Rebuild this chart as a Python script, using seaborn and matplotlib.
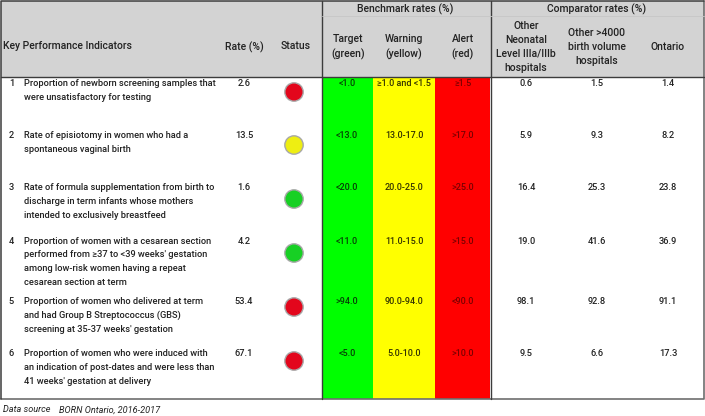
import matplotlib
matplotlib.use('Agg')
import matplotlib.pyplot as plt
import pandas as pd
import seaborn as sns

numbers = ['1', '2', '3', '4', '5', '6']
indicators = [
    'Proportion of newborn screening samples that\nwere unsatisfactory for testing',
    'Rate of episiotomy in women who had a\nspontaneous vaginal birth',
    'Rate of formula supplementation from birth to\ndischarge in term infants whose mothers\nintended to exclusively breastfeed',
    'Proportion of women with a cesarean section\nperformed from ≥37 to <39 weeks\' gestation\namong low-risk women having a repeat\ncesarean section at term',
    'Proportion of women who delivered at term\nand had Group B Streptococcus (GBS)\nscreening at 35-37 weeks\' gestation',
    'Proportion of women who were induced with\nan indication of post-dates and were less than\n41 weeks\' gestation at delivery',
]
rates = ['2.6', '13.5', '1.6', '4.2', '53.4', '67.1']
status = ['red', 'yellow', 'green', 'green', 'red', 'red']
target = ['<1.0', '<13.0', '<20.0', '<11.0', '>94.0', '<5.0']
warning = ['≥1.0 and <1.5', '13.0-17.0', '20.0-25.0', '11.0-15.0', '90.0-94.0', '5.0-10.0']
alert = ['≥1.5', '>17.0', '>25.0', '>15.0', '<90.0', '>10.0']
neonatal = ['0.6', '5.9', '16.4', '19.0', '98.1', '9.5']
birth_volume = ['1.5', '9.3', '25.3', '41.6', '92.8', '6.6']
ontario = ['1.4', '8.2', '23.8', '36.9', '91.1', '17.3']

row_y = [84, 136, 188, 241, 302, 354]
light_y = [92, 145, 199, 253, 307, 361]
line_h = 13.7
text_col = '#222222'
fs = 6.7

sns.set_theme(style='white')
plt.rcParams['font.family'] = ['Roboto', 'DejaVu Sans']

fig = plt.figure(figsize=(7.05, 4.16), dpi=100)

# benchmark colour columns, one heatmap per column because the widths differ
columns = [(322, 373, '#00ff00'), (373, 435, '#ffff00'), (435, 490, '#ff0000')]
for left, right, colour in columns:
    hm = fig.add_axes([left / 705, 1 - 399 / 416, (right - left) / 705, (399 - 77) / 416], zorder=1)
    sns.heatmap(pd.DataFrame({'c': [1] * 6}), cmap=[colour], cbar=False,
                xticklabels=False, yticklabels=False, ax=hm)

ax = fig.add_axes([0, 0, 1, 1], zorder=2)
ax.patch.set_alpha(0)

# grey header
ax.fill_between([1, 704], 1, 77, color='#d3d3d3', lw=0, zorder=0)

# status lights
lights = pd.DataFrame({'x': [294] * 6, 'y': light_y, 'status': status})
sns.scatterplot(data=lights, x='x', y='y', hue='status',
                palette={'red': '#e3061c', 'yellow': '#eeee12', 'green': '#17d024'},
                s=175, edgecolor='#a8a8a8', linewidth=1.0, legend=False, ax=ax, zorder=6)
ax.set_xlim(0, 705)
ax.set_ylim(416, 0)
ax.axis('off')

# frame and grid
line_col = '#3c3c3c'
ax.plot([1, 704, 704], [399, 399, 1], color='#6e6e6e', lw=1.2, zorder=5)
ax.plot([704, 1, 1, 1], [1, 1, 399, 399], color=line_col, lw=1.1, zorder=5)
ax.plot([1, 704], [77, 77], color=line_col, lw=1.0, zorder=5)
ax.plot([321.5, 321.5], [1, 399], color=line_col, lw=1.0, zorder=5)
ax.plot([490.5, 490.5], [1, 399], color=line_col, lw=1.0, zorder=5)
ax.plot([322, 704], [16, 16], color='#c6c6c6', lw=0.6, zorder=5)

# header text
hkw = dict(fontsize=7.5, color=text_col, va='center', ha='center', fontweight='medium')
ax.text(3, 46, 'Key Performance Indicators', **{**hkw, 'ha': 'left'})
ax.text(244, 47, 'Rate (%)', **hkw)
ax.text(296, 46, 'Status', **hkw)
ax.text(405, 9, 'Benchmark rates (%)', **hkw)
ax.text(597, 9, 'Comparator rates (%)', **hkw)
ax.text(348, 47, 'Target\n(green)', linespacing=1.5, **hkw)
ax.text(404, 47, 'Warning\n(yellow)', linespacing=1.5, **hkw)
ax.text(463, 47, 'Alert\n(red)', linespacing=1.5, **hkw)
ax.text(526, 47, 'Other\nNeonatal\nLevel IIIa/IIIb\nhospitals', linespacing=1.48, **hkw)
ax.text(597, 47, 'Other >4000\nbirth volume\nhospitals', linespacing=1.48, **hkw)
ax.text(668, 47, 'Ontario', **hkw)

# body rows
for i, y in enumerate(row_y):
    ax.text(11.5, y, numbers[i], fontsize=fs, color=text_col, ha='center', va='center', fontweight='medium')
    for j, part in enumerate(indicators[i].split('\n')):
        ax.text(24, y + j * line_h, part, fontsize=fs, color=text_col, ha='left', va='center', fontweight='medium')
    ax.text(244, y, rates[i], fontsize=fs, color=text_col, ha='center', va='center', fontweight='medium')
    ax.text(347, y, target[i], fontsize=6.5, color='#063d06', ha='center', va='center', fontweight='medium')
    ax.text(404, y, warning[i], fontsize=6.5, color='#333300', ha='center', va='center', fontweight='medium')
    ax.text(463, y, alert[i], fontsize=6.5, color='#7a0000', ha='center', va='center', fontweight='medium')
    ax.text(526, y, neonatal[i], fontsize=fs, color=text_col, ha='center', va='center', fontweight='medium')
    ax.text(597, y, birth_volume[i], fontsize=fs, color=text_col, ha='center', va='center', fontweight='medium')
    ax.text(668, y, ontario[i], fontsize=fs, color=text_col, ha='center', va='center', fontweight='medium')

ax.text(3, 410, 'Data source', fontsize=6.6, style='italic', color=text_col, va='center')
ax.text(59, 410, 'BORN Ontario, 2016-2017', fontsize=6.6, style='italic', color=text_col, va='center')

fig.savefig('out.png', dpi=100)
